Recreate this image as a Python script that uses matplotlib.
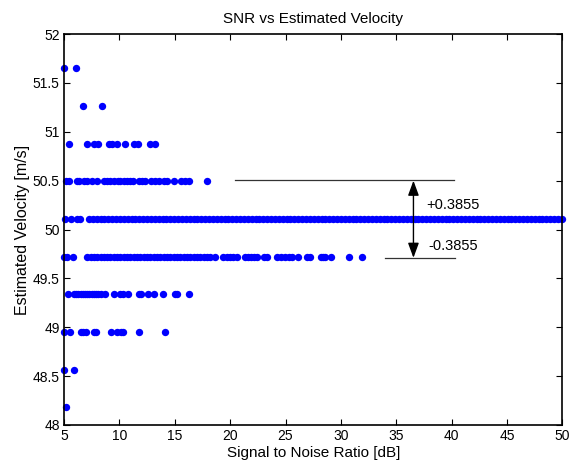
import matplotlib.pyplot as plt
import numpy as np

plt.rcParams['font.family'] = ['Liberation Sans', 'DejaVu Sans']

# velocity levels (m/s) the estimator lands on
lvl = [48.181, 48.566, 48.952, 49.337, 49.723, 50.108, 50.494, 50.879, 51.265, 51.650]

# SNR values [dB] of the points on each level
snr_4818 = [5.15]
snr_4857 = [5.0, 5.95]
snr_4895 = [5.0, 5.55, 6.55, 6.75, 6.95, 7.7, 7.9, 9.25, 9.8, 10.15, 10.3, 11.8, 14.15]
snr_4934 = [5.35, 5.9, 6.1, 6.3, 6.5, 6.7, 6.9, 7.1, 7.3, 7.5, 7.7, 7.9, 8.1, 8.3,
            8.75, 9.55, 10.1, 10.3, 10.75, 11.8, 11.95, 12.6, 13.1, 13.9, 15.0, 15.2, 16.3]
snr_4972 = [5.0, 5.3, 5.85, 7.1, 7.4, 7.7, 8.0, 8.3, 8.6, 8.9, 9.2, 9.5, 9.8, 10.1,
            10.4, 10.7, 11.0, 11.3, 11.6, 11.9, 12.2, 12.5, 12.8, 13.1, 13.4, 13.7,
            14.0, 14.3, 14.6, 14.9, 15.2, 15.5, 15.8, 16.1, 16.4, 16.7, 17.0, 17.3,
            17.6, 17.9, 18.2, 18.6, 19.4, 19.7, 20.0, 20.3, 20.6, 21.3, 21.6, 21.9,
            22.2, 22.4, 23.1, 23.3, 24.25, 24.6, 24.95, 25.35, 25.6, 26.1,
            26.9, 27.2, 28.2, 28.4, 28.6, 29.1, 30.75, 31.95]
snr_5010 = [5.05, 5.65, 6.2, 6.45, 7.25, 7.6, 7.95, 8.3, 8.65, 9.0, 9.35, 9.7, 10.05,
            10.4, 10.75, 11.1, 11.45, 11.8, 12.15, 12.5, 12.85, 13.2, 13.55, 13.9,
            14.25, 14.6, 14.95, 15.3, 15.65, 16.0, 16.35, 16.7, 17.05, 17.4, 17.75,
            18.1, 18.45, 18.8, 19.15, 19.5, 19.85, 20.2, 20.55, 20.9, 21.25, 21.6,
            21.95, 22.3, 22.65, 23.0, 23.35, 23.7, 24.05, 24.4, 24.75, 25.1, 25.45,
            25.8, 26.15, 26.5, 26.85, 27.2, 27.55, 27.9, 28.25, 28.6, 28.95, 29.3,
            29.65, 30.0, 30.35, 30.7, 31.05, 31.4, 31.75, 32.1, 32.45, 32.8, 33.15,
            33.5, 33.85, 34.2, 34.55, 34.9, 35.25, 35.6, 35.95, 36.3, 36.65, 37.0,
            37.35, 37.7, 38.05, 38.4, 38.75, 39.1, 39.45, 39.8, 40.15, 40.5, 40.85,
            41.2, 41.55, 41.9, 42.25, 42.6, 42.95, 43.3, 43.65, 44.0, 44.35, 44.7,
            45.05, 45.4, 45.75, 46.1, 46.45, 46.8, 47.15, 47.5, 47.85, 48.2, 48.55,
            48.9, 49.25, 49.6, 50.0]
snr_5049 = [5.15, 5.45, 6.15, 6.35, 6.85, 7.1, 7.55, 8.0, 8.65, 8.9, 9.2, 9.5, 9.85,
            10.1, 10.4, 10.7, 11.0, 11.2, 11.75, 12.05, 12.35, 12.85, 13.25, 13.6,
            14.0, 14.3, 14.9, 15.55, 15.95, 16.25, 17.95]
snr_5088 = [5.5, 7.1, 7.7, 8.1, 9.05, 9.35, 9.8, 10.5, 11.35, 11.65, 12.8, 13.2]
snr_5126 = [6.7, 8.45]
snr_5165 = [5.0, 6.05]

groups = [snr_4818, snr_4857, snr_4895, snr_4934, snr_4972,
          snr_5010, snr_5049, snr_5088, snr_5126, snr_5165]

fig = plt.figure(figsize=(5.71, 4.66), dpi=100)
ax = fig.add_axes([0.112, 0.088, 0.873, 0.839])

for v, xs in zip(lvl, groups):
    ax.plot(xs, np.full(len(xs), v), 'o', color='#0000ff', ms=5.3,
            mec='none', clip_on=False)

# step annotation
ax.plot([20.45, 40.2], [50.51, 50.51], color='#333333', lw=0.9)
ax.plot([34.0, 40.3], [49.705, 49.705], color='#333333', lw=0.9)
ax.annotate('', xy=(36.55, 50.50), xytext=(36.55, 49.71),
            arrowprops=dict(arrowstyle='<|-|>,head_length=0.6,head_width=0.22',
                            color='k', lw=1.0, mutation_scale=15,
                            shrinkA=0, shrinkB=0))
ax.text(37.75, 50.25, '+0.3855', fontsize=10.5, va='center', ha='left')
ax.text(37.9, 49.83, '-0.3855', fontsize=10.5, va='center', ha='left')

ax.set_xlim(5, 50)
ax.set_ylim(48, 52)
ax.set_xticks(np.arange(5, 51, 5))
ax.set_yticks(np.arange(48, 52.01, 0.5))
ax.set_yticklabels(['48', '48.5', '49', '49.5', '50', '50.5', '51', '51.5', '52'])
ax.tick_params(direction='in', length=4, width=0.8, top=True, right=True,
               labelsize=10, pad=3)
for s in ax.spines.values():
    s.set_linewidth(1.2)

ax.set_title('SNR vs Estimated Velocity', fontsize=11, pad=8)
ax.set_xlabel('Signal to Noise Ratio [dB]', fontsize=11, labelpad=2)
ax.set_ylabel('Estimated Velocity [m/s]', fontsize=11.5, labelpad=2)

fig.savefig('out.png', dpi=100)
